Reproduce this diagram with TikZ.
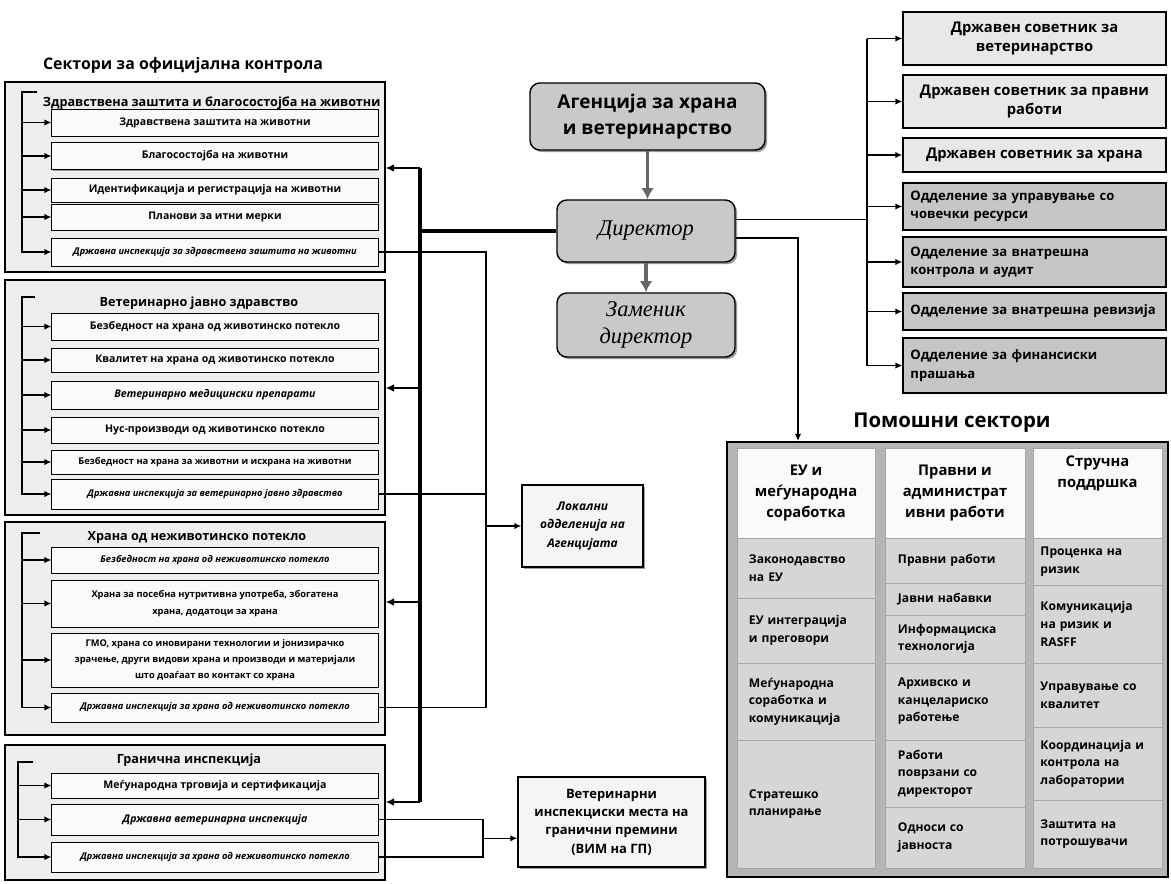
\documentclass[tikz,border=0pt]{standalone}
\usepackage{fontspec}
\setmainfont{Open Sans}
\newfontfamily\serifit{Liberation Serif}
\usetikzlibrary{arrows.meta,calc,shadows}
\newcommand{\fsz}[2]{\fontsize{#1}{#2}\selectfont}

\begin{document}
\begin{tikzpicture}[x=0.025cm, y=-0.025cm,
        % group frames of the control sectors
        grp/.style={draw, fill=gray!13, line width=0.8pt, minimum width=9.5cm},
        grptitle/.style={font=\bfseries\fsz{9}{11}},
        % units inside a group
        unit/.style={draw, fill=gray!4, line width=0.7pt, minimum width=8.15cm, inner sep=1pt, align=center,
            font=\bfseries\fsz{7.5}{11}, drop shadow={shadow xshift=1pt, shadow yshift=-1pt, fill=black!75}},
        units/.style={unit, font=\bfseries\fsz{6.6}{11.5}},
        uniti/.style={unit, font=\bfseries\itshape\fsz{6.6}{11}},
        % central boxes
        topbox/.style={draw, fill=gray!42, rounded corners=7pt, line width=1pt, align=center,
            drop shadow={shadow xshift=1.5pt, shadow yshift=-1.5pt, fill=black!80}},
        sidebox/.style={draw, fill=gray!8, line width=0.8pt, align=center, font=\bfseries\fsz{9}{13},
            drop shadow={shadow xshift=1.2pt, shadow yshift=-1.2pt, fill=black!75}},
        % state advisers and departments
        adv/.style={draw, fill=gray!18, line width=0.8pt, minimum width=6.575cm, align=center,
            font=\bfseries\fsz{10.5}{14}},
        dept/.style={draw, fill=gray!45, line width=0.8pt, minimum width=6.575cm, text width=6.2cm, align=left,
            font=\bfseries\fsz{9.3}{13}},
        % support sectors table
        pmframe/.style={draw, fill=gray!58, line width=1pt},
        hcell/.style={draw=gray!70, fill=gray!4, align=center, font=\bfseries\fsz{10.5}{15}},
        bcell/.style={draw=gray!70, fill=gray!32, text width=2.85cm, align=left, font=\bfseries\fsz{8.6}{12.5}},
        % lines
        brk/.style={line width=1pt},
        busline/.style={line width=2.6pt},
        arr/.style={-{Latex[length=5pt,width=4.5pt]}, line width=1pt},
        busarr/.style={-{Latex[length=6pt,width=5.5pt]}, line width=1.8pt},
        mainarr/.style={-{Latex[length=8pt,width=9pt]}, line width=2.4pt, draw=gray!80!black}
    ]

    \path[use as bounding box, fill=white] (0,0) rectangle (1171,883);

    % LEFT - sectors for official control
    \node[font=\bfseries\fsz{11.3}{14}] (sect) at (183,65) {Сектори за официјална контрола};

    \node[grp, minimum height=4.75cm] (g1) at (195,177) {};
    \node[grptitle, anchor=west] (g1t) at (38,103) {Здравствена заштита и благосостојба на животни};
    \node[unit, minimum height=0.675cm] (s11) at (215,122.5) {Здравствена заштита на животни};
    \node[unit, minimum height=0.675cm] (s12) at (215,156) {Благосостојба на животни};
    \node[unit, minimum height=0.6cm] (s13) at (215,190) {Идентификација и регистрација на животни};
    \node[unit, minimum height=0.65cm] (s14) at (215,217) {Планови за итни мерки};
    \node[uniti, minimum height=0.7cm] (s15) at (215,252) {Државна инспекција за здравствена заштита на животни};

    \node[grp, minimum height=5.875cm] (g2) at (195,397.5) {};
    \node[grptitle] (g2t) at (199,303) {Ветеринарно јавно здравство};
    \node[unit, minimum height=0.675cm] (s21) at (215,326.5) {Безбедност на храна од животинско потекло};
    \node[unit, minimum height=0.6cm] (s22) at (215,360) {Квалитет на храна од животинско потекло};
    \node[uniti, minimum height=0.7cm, font=\bfseries\itshape\fsz{7.5}{11}] (s23) at (215,395) {Ветеринарно медицински препарати};
    \node[unit, minimum height=0.65cm] (s24) at (215,430) {Нус-производи од животинско потекло};
    \node[units, minimum height=0.6cm] (s25) at (215,462) {Безбедност на храна за животни и исхрана на животни};
    \node[uniti, minimum height=0.75cm] (s26) at (215,494) {Државна инспекција за ветеринарно јавно здравство};

    \node[grp, minimum height=5.325cm] (g3) at (195,628.5) {};
    \node[grptitle] (g3t) at (197,537) {Храна од неживотинско потекло};
    \node[uniti, minimum height=0.65cm] (s31) at (215,560) {Безбедност на храна од неживотинско потекло};
    \node[units, minimum height=1.175cm] (s32) at (215,603.5) {Храна за посебна нутритивна употреба, збогатена\\храна, додатоци за храна};
    \node[units, minimum height=1.35cm] (s33) at (215,660) {ГМО, храна со иновирани технологии и јонизирачко\\зрачење, други видови храна и производи и материјали\\што доаѓаат во контакт со храна};
    \node[uniti, minimum height=0.725cm] (s34) at (215,707.5) {Државна инспекција за храна од неживотинско потекло};

    \node[grp, minimum height=3.375cm] (g4) at (195,812.5) {};
    \node[grptitle] (g4t) at (189,760) {Гранична инспекција};
    \node[unit, minimum height=0.625cm] (s41) at (215,785.5) {Меѓународна трговија и сертификација};
    \node[uniti, minimum height=0.775cm, font=\bfseries\itshape\fsz{7.5}{11}] (s42) at (215,819.5) {Државна ветеринарна инспекција};
    \node[uniti, minimum height=0.75cm] (s43) at (215,857) {Државна инспекција за храна од неживотинско потекло};

    % brackets inside the groups
    \coordinate (k1) at (22,92);  \coordinate (k1h) at (37,92);
    \coordinate (k2) at (22,297); \coordinate (k2h) at (35,297);
    \coordinate (k3) at (22,533); \coordinate (k3h) at (40,533);
    \coordinate (k4) at (18,762); \coordinate (k4h) at (33,762);
    \draw[arr] (k1h) -- (k1) |- (s15.west);
    \foreach \s in {s11,s12,s13,s14} \draw[arr] (k1 |- \s.west) -- (\s.west);
    \draw[arr] (k2h) -- (k2) |- (s26.west);
    \foreach \s in {s21,s22,s23,s24,s25} \draw[arr] (k2 |- \s.west) -- (\s.west);
    \draw[arr] (k3h) -- (k3) |- (s34.west);
    \foreach \s in {s31,s32,s33} \draw[arr] (k3 |- \s.west) -- (\s.west);
    \draw[arr] (k4h) -- (k4) |- (s43.west);
    \foreach \s in {s41,s42} \draw[arr] (k4 |- \s.west) -- (\s.west);

    % CENTRE
    \node[topbox, minimum width=5.875cm, minimum height=1.675cm, font=\bfseries\fsz{13.5}{18}] (agency) at (647.5,116.5) {Агенција за храна\\и ветеринарство};
    \node[topbox, minimum width=4.45cm, minimum height=1.55cm, font=\serifit\itshape\fsz{16}{19}] (dir) at (646,231) {Директор};
    \node[topbox, minimum width=4.45cm, minimum height=1.6cm, font=\serifit\itshape\fsz{16}{19}] (dep) at (646,325) {Заменик\\директор};
    \node[sidebox, minimum width=3.025cm, minimum height=2.05cm, font=\bfseries\itshape\fsz{8.5}{13}] (lok) at (582.5,526) {Локални\\одделенија на\\Агенцијата};
    \node[sidebox, minimum width=4.675cm, minimum height=2.25cm, font=\bfseries\fsz{9.2}{13}] (vim) at (611.5,822) {Ветеринарни\\инспекциски места на\\гранични премини\\(ВИМ на ГП)};

    \draw[mainarr] (agency.south) -- (agency.south |- dir.north);
    \draw[mainarr] (dir.south) -- (dir.south |- dep.north);

    % bus from the director to the control sectors
    \coordinate (busT) at (420,168);
    \coordinate (bus2) at (420,388);
    \coordinate (bus3) at (420,602);
    \coordinate (busB) at (420,802);
    \draw[busline] (busT) -- (busB);
    \draw[busline] (dir.west) -- (dir.west -| busT);
    \draw[busarr] (busT) -- (busT -| g1.east);
    \draw[busarr] (bus2) -- (bus2 -| g2.east);
    \draw[busarr] (bus3) -- (bus3 -| g3.east);
    \draw[busarr] (busB) -- (busB -| g4.east);

    % inspections to local units and border posts
    \coordinate (lx) at (486,0);
    \draw[brk] (s15.east) -- (s15.east -| lx) -- (s34.east -| lx) -- (s34.east);
    \draw[brk] (s26.east) -- (s26.east -| lx);
    \draw[arr] (lok.west -| lx) -- (lok.west);
    \coordinate (vx) at (483,0);
    \draw[brk] (s42.east) -- (s42.east -| vx) -- (s43.east -| vx) -- (s43.east);
    \draw[arr] ($(s42.east -| vx)!0.5!(s43.east -| vx)$) -- ($(s42.east -| vim.west)!0.5!(s43.east -| vim.west)$);

    % RIGHT - advisers and departments
    \node[adv, minimum height=1.325cm] (a1) at (1034.5,38.5) {Државен советник за\\ветеринарство};
    \node[adv, minimum height=1.325cm] (a2) at (1034.5,101.5) {Државен советник за правни\\работи};
    \node[adv, minimum height=0.85cm] (a3) at (1034.5,155) {Државен советник за храна};
    \node[dept, minimum height=1.175cm] (a4) at (1034.5,206.5) {Одделение за управување со\\човечки ресурси};
    \node[dept, minimum height=1.25cm] (a5) at (1034.5,262) {Одделение за внатрешна\\контрола и аудит};
    \node[dept, minimum height=0.925cm] (a6) at (1034.5,311.5) {Одделение за внатрешна ревизија};
    \node[dept, minimum height=1.375cm] (a7) at (1034.5,365.5) {Одделение за финансиски\\прашања};

    \coordinate (rb) at (867,0);
    \draw[brk] (a1.west -| rb) -- (a7.west -| rb);
    \foreach \a in {a1,a2,a3,a4,a5,a6,a7} \draw[arr] (\a.west -| rb) -- (\a.west);
    \draw[brk] ([yshift=8pt]dir.east) -- ([yshift=8pt]dir.east -| rb);

    % support sectors
    \node[font=\bfseries\fsz{14.5}{17}] (pmt) at (952,423) {Помошни сектори};
    \node[pmframe, minimum width=11.025cm, minimum height=10.875cm] (pm) at (947.5,659.5) {};
    \coordinate (pmin) at (798,441);
    \draw[arr] ([yshift=-5pt]dir.east) -| (pmin);

    \node[hcell, minimum width=3.45cm, minimum height=2.25cm] (h1) at (806,493) {ЕУ и\\меѓународна\\соработка};
    \node[hcell, minimum width=3.5cm, minimum height=2.25cm] (h2) at (955,493) {Правни и\\администрат\\ивни работи};
    \node[hcell, minimum width=3.225cm, minimum height=2.25cm] (h3) at (1097.5,493) {Стручна\\поддршка\\[15pt]};

    \node[bcell, minimum width=3.45cm, minimum height=1.5cm] (e11) at (806,568) {Законодавство\\на ЕУ};
    \node[bcell, minimum width=3.45cm, minimum height=1.625cm] (e12) at (806,630.5) {ЕУ интеграција\\и преговори};
    \node[bcell, minimum width=3.45cm, minimum height=1.925cm] (e13) at (806,701.5) {Меѓународна\\соработка и\\комуникација};
    \node[bcell, minimum width=3.45cm, minimum height=3.2cm] (e14) at (806,804) {Стратешко\\планирање};

    \node[bcell, minimum width=3.5cm, minimum height=1.125cm] (e21) at (955,560.5) {Правни работи};
    \node[bcell, minimum width=3.5cm, minimum height=0.8cm] (e22) at (955,599) {Јавни набавки};
    \node[bcell, minimum width=3.5cm, minimum height=1.2cm] (e23) at (955,639) {Информациска\\технологија};
    \node[bcell, minimum width=3.5cm, minimum height=1.925cm] (e24) at (955,701.5) {Архивско и\\канцелариско\\работење};
    \node[bcell, minimum width=3.5cm, minimum height=1.675cm] (e25) at (955,773.5) {Работи\\поврзани со\\директорот};
    \node[bcell, minimum width=3.5cm, minimum height=1.525cm] (e26) at (955,837.5) {Односи со\\јавноста};

    \node[bcell, minimum width=3.225cm, minimum height=1.175cm] (e31) at (1097.5,561.5) {Проценка на\\ризик};
    \node[bcell, minimum width=3.225cm, minimum height=1.95cm] (e32) at (1097.5,624) {Комуникација\\на ризик и\\RASFF};
    \node[bcell, minimum width=3.225cm, minimum height=1.6cm] (e33) at (1097.5,695) {Управување со\\квалитет};
    \node[bcell, minimum width=3.225cm, minimum height=1.825cm] (e34) at (1097.5,763.5) {Координација и\\контрола на\\лаборатории};
    \node[bcell, minimum width=3.225cm, minimum height=1.7cm] (e35) at (1097.5,834) {Заштита на\\потрошувачи};

\end{tikzpicture}
\end{document}
